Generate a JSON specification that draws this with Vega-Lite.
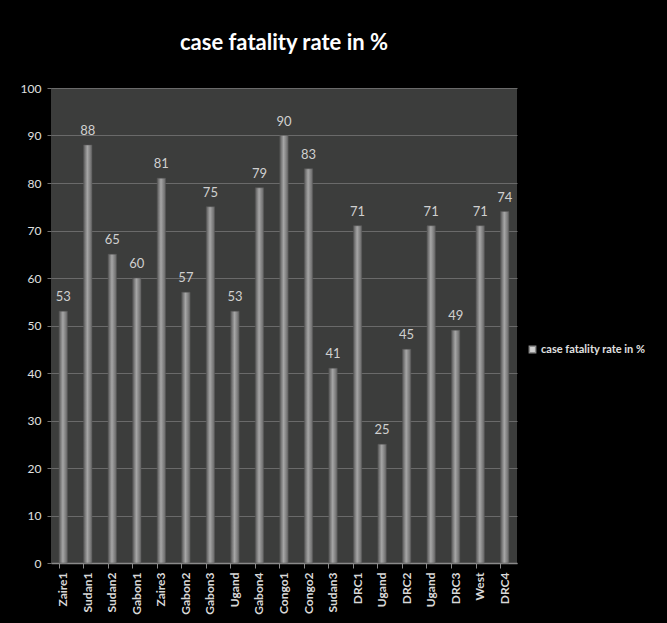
{
  "$schema": "https://vega.github.io/schema/vega-lite/v6.json",
  "autosize": "none",
  "width": 466,
  "height": 475,
  "padding": {"left": 51, "top": 88, "right": 150, "bottom": 60},
  "background": "#000000",
  "title": {
    "text": "case fatality rate in %",
    "font": "Lato",
    "fontSize": 22,
    "fontWeight": "bold",
    "color": "#ffffff",
    "anchor": "middle",
    "offset": 27
  },
  "data": {
    "values": [
      {"name": "Zaire1", "rate": 53},
      {"name": "Sudan1", "rate": 88},
      {"name": "Sudan2", "rate": 65},
      {"name": "Gabon1", "rate": 60},
      {"name": "Zaire3", "rate": 81},
      {"name": "Gabon2", "rate": 57},
      {"name": "Gabon3", "rate": 75},
      {"name": "Ugand#1", "rate": 53},
      {"name": "Gabon4", "rate": 79},
      {"name": "Congo1", "rate": 90},
      {"name": "Congo2", "rate": 83},
      {"name": "Sudan3", "rate": 41},
      {"name": "DRC1", "rate": 71},
      {"name": "Ugand#2", "rate": 25},
      {"name": "DRC2", "rate": 45},
      {"name": "Ugand#3", "rate": 71},
      {"name": "DRC3", "rate": 49},
      {"name": "West", "rate": 71},
      {"name": "DRC4", "rate": 74}
    ]
  },
  "encoding": {
    "x": {
      "field": "name",
      "type": "nominal",
      "sort": null,
      "scale": {"paddingInner": 0.66, "paddingOuter": 0.33},
      "axis": {
        "title": null,
        "labelExpr": "split(datum.value, '#')[0]",
        "labelAngle": -90,
        "labelFont": "Lato",
        "labelFontWeight": "bold",
        "labelFontSize": 12,
        "labelColor": "#d8d8d8",
        "labelPadding": 4,
        "bandPosition": 0,
        "tickColor": "#8a8a8a",
        "tickSize": 5,
        "domainColor": "#8a8a8a",
        "domainWidth": 1.5,
        "grid": false
      }
    },
    "y": {
      "field": "rate",
      "type": "quantitative",
      "scale": {"domain": [0, 100], "nice": false},
      "axis": {
        "title": null,
        "values": [0, 10, 20, 30, 40, 50, 60, 70, 80, 90, 100],
        "labelFont": "Lato",
        "labelFontSize": 12,
        "labelColor": "#e0e0e0",
        "labelPadding": 6,
        "tickColor": "#6e6e6e",
        "tickSize": 4,
        "domain": false,
        "gridColor": "#6a6a6a",
        "gridWidth": 1.2
      }
    }
  },
  "layer": [
    {
      "mark": {
        "type": "bar",
        "fill": {
          "gradient": "linear",
          "x1": 0, "x2": 1, "y1": 0, "y2": 0,
          "stops": [
            {"offset": 0, "color": "#5a5a5a"},
            {"offset": 0.45, "color": "#a6a6a6"},
            {"offset": 1, "color": "#666666"}
          ]
        },
        "stroke": "#5a5a5a",
        "strokeWidth": 0.5
      }
    },
    {
      "mark": {
        "type": "text",
        "dy": -14,
        "font": "Lato",
        "fontSize": 13
      },
      "encoding": {
        "text": {"field": "rate", "type": "quantitative"},
        "color": {
          "datum": "case fatality rate in %",
          "scale": {"range": ["#d0d0d0"]},
          "legend": {
            "title": null,
            "orient": "none",
            "legendX": 476,
            "legendY": 256,
            "symbolType": "square",
            "symbolSize": 40,
            "symbolFillColor": "#8c8c8c",
            "symbolStrokeColor": "#8c8c8c",
            "symbolOpacity": 1,
            "labelFont": "Lato",
            "labelFontWeight": "bold",
            "labelFontSize": 11,
            "labelColor": "#e0e0e0",
            "labelOffset": 3
          }
        }
      }
    }
  ],
  "config": {
    "view": {"fill": "#3c3d3c", "stroke": null}
  }
}
